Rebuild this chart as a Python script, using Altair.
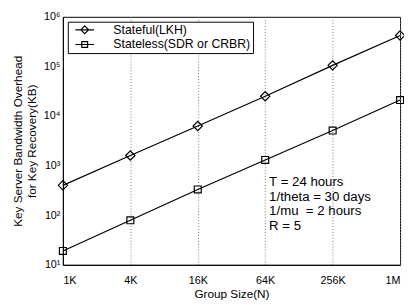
import altair as alt
import pandas as pd

# ---- data ----
group_sizes = [1024, 4096, 16384, 65536, 262144, 1048576]
size_labels = ["1K", "4K", "16K", "64K", "256K", "1M"]
stateful = [400, 1600, 6300, 25000, 105000, 420000]
stateless = [19, 79, 330, 1300, 5100, 21000]
series_names = ["Stateful(LKH)", "Stateless(SDR or CRBR)"]
y_ticks = [10, 100, 1000, 10000, 100000, 1000000]
notes = ["T = 24 hours", "1/theta = 30 days", "1/mu\u00a0 = 2 hours", "\u00a0R = 5"]
note_x = [65536]
note_y = [640]

rows = []
for name, vals in zip(series_names, [stateful, stateless]):
    for g, v in zip(group_sizes, vals):
        rows.append({"series": name, "size": g, "value": v})
df = pd.DataFrame(rows)

note_df = pd.DataFrame({"size": note_x, "value": note_y, "text": ["\n".join(notes)]})

FONT = "Liberation Sans"

x_label_expr = " : ".join(
    f"abs(datum.value - {g}) < 1 ? '{l}'" for g, l in zip(group_sizes, size_labels)
) + " : ''"
y_label_expr = "'10' + ['⁰','¹','²','³','⁴','⁵','⁶'][round(log(datum.value)/LN10)]"

x_enc = alt.X(
    "size:Q",
    scale=alt.Scale(type="log", base=2, domain=[group_sizes[0], group_sizes[-1]], nice=False),
    axis=alt.Axis(
        values=group_sizes,
        labelExpr=x_label_expr,
        title="Group Size(N)",
        grid=True,
        gridDash=[1, 2],
        gridColor="#777777",
        gridWidth=1,
        tickSize=0,
        domainColor="black",
        labelFont=FONT,
        labelFontSize=11,
        labelColor="black",
        labelPadding=10,
        titleFont=FONT,
        titleFontSize=12,
        titleFontWeight="normal",
        titleColor="black",
        titlePadding=3,
    ),
)
y_enc = alt.Y(
    "value:Q",
    scale=alt.Scale(type="log", domain=[y_ticks[0], y_ticks[-1]], nice=False),
    axis=alt.Axis(
        values=y_ticks,
        labelExpr=y_label_expr,
        title=["Key Server Bandwidth Overhead", "for Key Recovery(KB)"],
        grid=False,
        tickSize=0,
        domainColor="black",
        labelFont=FONT,
        labelFontSize=11,
        labelColor="black",
        labelPadding=3,
        titleFont=FONT,
        titleFontSize=12,
        titleFontWeight="normal",
        titleColor="black",
        titlePadding=5,
        titleLineHeight=14,
    ),
)

lines = alt.Chart(df).mark_line(color="black", strokeWidth=1.2).encode(
    x=x_enc, y=y_enc, detail="series:N"
)

points = alt.Chart(df).mark_point(filled=False, color="black", strokeWidth=1.2, opacity=1).encode(
    x=x_enc,
    y=y_enc,
    shape=alt.Shape("series:N", scale=alt.Scale(domain=series_names, range=["diamond", "square"]), legend=None),
    size=alt.Size("series:N", scale=alt.Scale(domain=series_names, range=[90, 50]), legend=None),
)

diamond_path = "M-2,0L2,0M0,-0.84L0.84,0L0,0.84L-0.84,0Z"
square_path = "M-2,0L2,0M-0.63,-0.63L0.63,-0.63L0.63,0.63L-0.63,0.63Z"

legend_layer = alt.Chart(df).mark_point(filled=False, color="black", strokeWidth=1.2, size=90, opacity=1).encode(
    x=x_enc,
    y=y_enc,
    shape=alt.Shape(
        "series:N",
        scale=alt.Scale(domain=series_names, range=[diamond_path, square_path]),
        legend=alt.Legend(
            title=None,
            orient="top-left",
            offset=5,
            padding=2,
            rowPadding=2,
            labelFont=FONT,
            labelFontSize=12.5,
            labelColor="black",
            labelOffset=23,
            strokeColor="black",
            fillColor="white",
            symbolSize=90,
            symbolStrokeColor="black",
            symbolStrokeWidth=1.2,
            symbolOffset=9,
        ),
    ),
).transform_filter("false")

note_layer = alt.Chart(note_df).mark_text(
    align="left", baseline="top", font=FONT, fontSize=13.5, lineHeight=15,
    lineBreak="\n", color="black", dx=4
).encode(x=x_enc, y=y_enc, text="text:N")

chart = (
    alt.layer(lines, points, legend_layer, note_layer)
    .resolve_scale(shape="independent", size="independent")
    .properties(
        width=344,
        height=253,
        autosize=alt.AutoSizeParams(type="none"),
        padding={"left": 56, "top": 6, "right": 4, "bottom": 38},
        background="white",
    )
    .configure_view(stroke="black", strokeWidth=1)
)

chart.save("out.html", embed_options={"renderer": "svg", "actions": False})
